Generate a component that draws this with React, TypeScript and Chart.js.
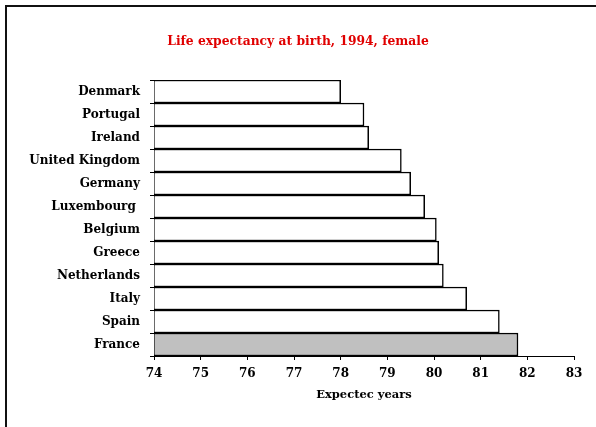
import React, { useEffect, useRef } from "react";
import { Chart, registerables } from "chart.js";

Chart.register(...registerables);

const countries = [
  "Denmark",
  "Portugal",
  "Ireland",
  "United Kingdom",
  "Germany",
  "Luxembourg ",
  "Belgium",
  "Greece",
  "Netherlands",
  "Italy",
  "Spain",
  "France",
];
const lifeExpectancy = [78.0, 78.5, 78.6, 79.3, 79.5, 79.8, 80.05, 80.1, 80.2, 80.7, 81.4, 81.8];
const barColors = countries.map((c) => (c === "France" ? "#c0c0c0" : "#ffffff"));
const chartTitle = "Life expectancy at birth, 1994, female";
const xAxisTitle = "Expectec years";
const xMin = 74;
const xMax = 83;

const FONT = "'DejaVu Serif', serif";

const framePlugin = {
  id: "frameAndTitle",
  beforeDraw(chart: any) {
    const ctx = chart.ctx;
    ctx.save();
    ctx.fillStyle = "#ffffff";
    ctx.fillRect(0, 0, chart.width, chart.height);
    ctx.strokeStyle = "#111111";
    ctx.lineWidth = 2;
    ctx.beginPath();
    ctx.moveTo(6, chart.height + 2);
    ctx.lineTo(6, 6);
    ctx.lineTo(chart.width + 2, 6);
    ctx.stroke();
    ctx.fillStyle = "#e00000";
    ctx.font = `bold 12.3px ${FONT}`;
    ctx.textAlign = "center";
    ctx.textBaseline = "middle";
    ctx.fillText(chartTitle, chart.width / 2, 42);
    ctx.restore();
  },
};

export default function App() {
  const ref = useRef<HTMLCanvasElement>(null);
  useEffect(() => {
    if (!ref.current) return;
    const chart = new Chart(ref.current, {
      type: "bar",
      data: {
        labels: countries,
        datasets: [
          {
            data: lifeExpectancy,
            backgroundColor: barColors,
            borderColor: "#000000",
            borderWidth: 1.5,
            barPercentage: 1,
            categoryPercentage: 1,
            base: xMin,
          },
        ],
      },
      options: {
        indexAxis: "y",
        animation: false,
        responsive: false,
        devicePixelRatio: 1,
        layout: { padding: { top: 80, right: 22, left: 0, bottom: 0 } },
        plugins: {
          legend: { display: false },
          title: { display: false },
          tooltip: { enabled: false },
        },
        scales: {
          x: {
            type: "linear",
            min: xMin,
            max: xMax,
            ticks: {
              stepSize: 1,
              color: "#000",
              font: { family: FONT, size: 12, weight: "bold" },
              padding: 7,
            },
            grid: {
              drawOnChartArea: false,
              drawTicks: true,
              tickLength: 4,
              color: "#000",
            },
            border: { display: true, color: "#000", width: 1 },
            title: {
              display: true,
              text: xAxisTitle,
              color: "#000",
              font: { family: FONT, size: 11.5, weight: "bold" },
              padding: { top: 0, bottom: 25 },
            },
            afterFit: (scale: any) => {
              scale.height = 71;
            },
          },
          y: {
            type: "category",
            ticks: {
              color: "#000",
              font: { family: FONT, size: 12, weight: "bold" },
              padding: 10,
            },
            grid: {
              drawOnChartArea: false,
              drawTicks: true,
              tickLength: 4,
              color: "#000",
              offset: true,
            },
            border: { display: true, color: "#000", width: 1 },
            afterFit: (scale: any) => {
              scale.width = 154;
            },
          },
        },
      },
      plugins: [framePlugin],
    });
    return () => chart.destroy();
  }, []);
  return (
    <div style={{ position: "fixed", left: 0, top: 0, width: 596, height: 427 }}>
      <canvas ref={ref} width={596} height={427} />
    </div>
  );
}
